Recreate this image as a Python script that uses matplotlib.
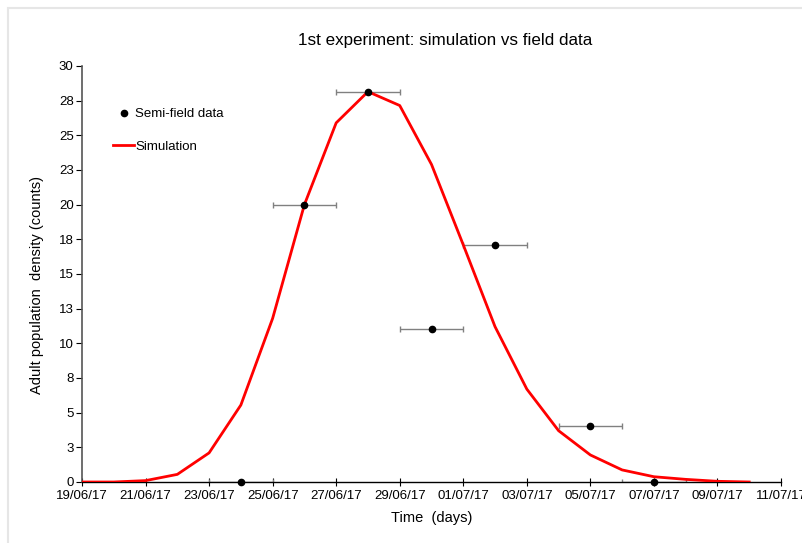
import datetime as dt
import matplotlib
matplotlib.use("Agg")
import matplotlib.pyplot as plt
import matplotlib.dates as mdates
from matplotlib.patches import Rectangle

plt.rcParams['font.family'] = ['Liberation Sans', 'DejaVu Sans']

# simulation, one value per day from 19/06/17
sim_start = dt.date(2017, 6, 19)
sim_values = [0.0, 0.0, 0.1, 0.55, 2.1, 5.55, 11.8, 20.0, 25.9, 28.15, 27.15,
              22.9, 17.1, 11.2, 6.7, 3.7, 1.95, 0.87, 0.38, 0.19, 0.05, 0.0]
sim_dates = [sim_start + dt.timedelta(days=i) for i in range(len(sim_values))]

# semi-field observations (x error = +/- 1 day)
obs_dates = [dt.date(2017, 6, 24), dt.date(2017, 6, 26), dt.date(2017, 6, 28),
             dt.date(2017, 6, 30), dt.date(2017, 7, 2), dt.date(2017, 7, 5),
             dt.date(2017, 7, 7)]
obs_values = [0.0, 20.0, 28.1, 11.0, 17.1, 4.05, 0.0]
obs_xerr_days = [1, 1, 1, 1, 1, 1, 1]

y_ticks = [0, 2.5, 5, 7.5, 10, 12.5, 15, 17.5, 20, 22.5, 25, 27.5, 30]
y_labels = ['0', '3', '5', '8', '10', '13', '15', '18', '20', '23', '25', '28', '30']

fig = plt.figure(figsize=(8.03, 5.43), dpi=100)
fig.patches.append(Rectangle((8 / 803, -0.1), 1.2, 1.1 - 8 / 543,
                             transform=fig.transFigure, fill=False,
                             edgecolor='#e6e6e6', linewidth=1.5))
ax = fig.add_axes([82 / 803, 1 - 482 / 543, (781 - 82) / 803, (482 - 66) / 543])

obs_x = mdates.date2num(obs_dates)
ax.errorbar(obs_x, obs_values, xerr=obs_xerr_days, fmt='none',
            ecolor='#808080', elinewidth=1, capsize=2.5, capthick=1, zorder=2)
ax.plot(sim_dates, sim_values, color='#ff0000', lw=2, label='Simulation', zorder=3)
ax.plot(obs_x, obs_values, 'o', color='black', markersize=4.5,
        label='Semi-field data', zorder=4, clip_on=False)

ax.set_xlim(dt.date(2017, 6, 19), dt.date(2017, 7, 11))
ax.set_ylim(0, 30)
ax.xaxis.set_major_locator(mdates.DayLocator(interval=2))
ax.xaxis.set_major_formatter(mdates.DateFormatter('%d/%m/%y'))
ax.set_yticks(y_ticks)
ax.set_yticklabels(y_labels)
ax.tick_params(axis='both', labelsize=9.5, length=4, width=0.8, colors='black',
               pad=2)
ax.tick_params(axis='x', direction='inout', length=6, pad=3)

for side in ['top', 'right']:
    ax.spines[side].set_visible(False)
ax.spines['left'].set_color('#555555')
ax.spines['left'].set_linewidth(1.2)
ax.spines['bottom'].set_linewidth(1.0)

ax.set_xlabel('Time  (days)', fontsize=10.5, labelpad=6)
ax.set_ylabel('Adult population  density (counts)', fontsize=10.5)
ax.yaxis.set_label_coords(-0.0546, 0.474)
fig.text(445 / 803, 1 - 41 / 543, '1st experiment: simulation vs field data',
         ha='center', va='center', fontsize=12.25)

h, l = ax.get_legend_handles_labels()
ax.legend([h[1], h[0]], [l[1], l[0]], loc='upper left',
          bbox_to_anchor=(113 / 803, 1 - 108 / 543), bbox_transform=fig.transFigure,
          frameon=False, fontsize=9.5, handlelength=1.6, handletextpad=0.1,
          labelspacing=1.55, borderpad=0, borderaxespad=0)

fig.savefig('out.png', dpi=100)
